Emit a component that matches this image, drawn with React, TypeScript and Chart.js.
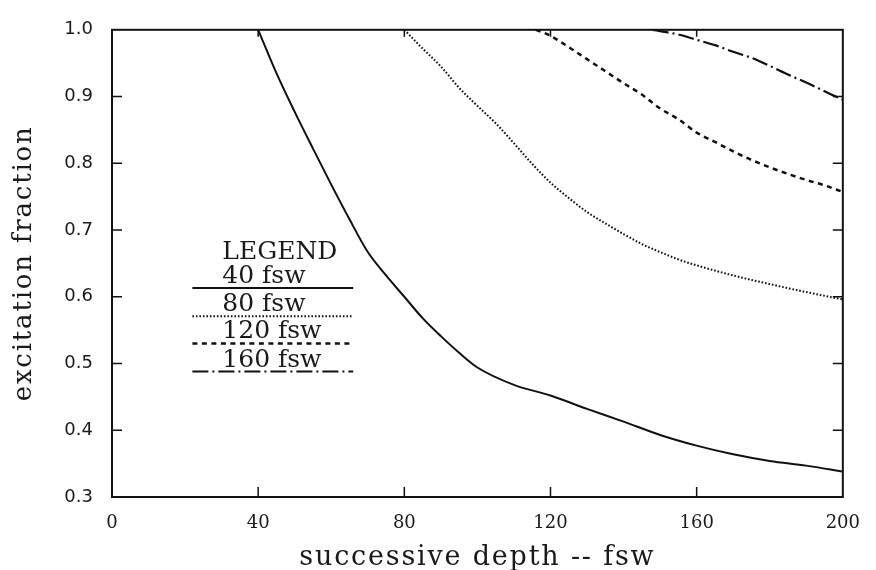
import React, { useEffect, useRef } from "react";
import { Chart, registerables } from "chart.js";
Chart.register(...registerables);

// ---- data ----
const depth40X = [40, 45, 50, 55, 60, 65, 70, 75, 80, 85, 90, 95, 100, 110, 120, 130, 140, 150, 160, 170, 180, 190, 200];
const depth40Y = [1.0, 0.935, 0.877, 0.822, 0.768, 0.716, 0.667, 0.632, 0.6, 0.568, 0.541, 0.516, 0.494, 0.468, 0.452, 0.432, 0.413, 0.393, 0.377, 0.364, 0.354, 0.347, 0.338];

const depth80X = [80, 85, 90, 95, 100, 105, 110, 115, 120, 125, 130, 135, 140, 145, 150, 155, 160, 170, 180, 190, 200];
const depth80Y = [1.0, 0.972, 0.945, 0.913, 0.886, 0.86, 0.83, 0.799, 0.771, 0.748, 0.727, 0.71, 0.694, 0.679, 0.667, 0.656, 0.647, 0.632, 0.619, 0.607, 0.596];

const depth120X = [116, 120, 125, 130, 135, 140, 145, 150, 155, 160, 165, 170, 175, 180, 185, 190, 195, 200];
const depth120Y = [1.0, 0.991, 0.974, 0.956, 0.938, 0.92, 0.903, 0.882, 0.866, 0.846, 0.832, 0.818, 0.805, 0.794, 0.784, 0.775, 0.767, 0.757];

const depth160X = [148, 150, 155, 160, 165, 170, 175, 180, 185, 190, 195, 200];
const depth160Y = [1.0, 0.998, 0.993, 0.985, 0.977, 0.967, 0.958, 0.946, 0.933, 0.921, 0.908, 0.895];

const xTicks = [0, 40, 80, 120, 160, 200];
const yTicks = [0.3, 0.4, 0.5, 0.6, 0.7, 0.8, 0.9, 1.0];

const seriesLabels = ["40 fsw", "80 fsw", "120 fsw", "160 fsw"];
const legendTitle = "LEGEND";
const xTitle = "successive depth -- fsw";
const yTitle = "excitation fraction";

// ---- styles ----
const INK = "#111";
const TEXT = "#1a1a1a";
const dashes: number[][] = [[], [1.6, 1.9], [5, 4.5], [16, 4, 2, 4]];
const widths = [2, 2, 2.5, 2.2];
const legendLineY = [0.613, 0.571, 0.53, 0.488];
const legendX0 = 22;
const legendX1 = 66;
const legendTextX = 30.2;
const legendTitleY = 0.6565;

function pts(xs: number[], ys: number[]) {
  return xs.map((x, i) => ({ x, y: ys[i] }));
}

const framePlugin = {
  id: "frameAndDecor",
  afterDatasetsDraw(chart: any) {
    const { ctx, chartArea: a, scales } = chart;
    const xs = scales.x;
    const ys = scales.y;
    ctx.save();
    // frame
    ctx.strokeStyle = INK;
    ctx.lineWidth = 2;
    ctx.setLineDash([]);
    ctx.strokeRect(a.left, a.top, a.right - a.left, a.bottom - a.top);
    // inward ticks
    ctx.lineWidth = 1.5;
    ctx.beginPath();
    xTicks.forEach((v) => {
      const px = xs.getPixelForValue(v);
      if (v > xs.min && v < xs.max) {
        ctx.moveTo(px, a.bottom);
        ctx.lineTo(px, a.bottom - 10);
        ctx.moveTo(px, a.top);
        ctx.lineTo(px, a.top + 7);
      }
    });
    yTicks.forEach((v) => {
      const py = ys.getPixelForValue(v);
      if (v > ys.min && v < ys.max) {
        ctx.moveTo(a.left, py);
        ctx.lineTo(a.left + 10, py);
        ctx.moveTo(a.right, py);
        ctx.lineTo(a.right - 10, py);
      }
    });
    ctx.stroke();

    // legend
    ctx.fillStyle = TEXT;
    ctx.font = "25px 'DejaVu Serif'";
    ctx.textAlign = "left";
    ctx.textBaseline = "alphabetic";
    const tx = xs.getPixelForValue(legendTextX);
    ctx.fillText(legendTitle, tx, ys.getPixelForValue(legendTitleY));
    seriesLabels.forEach((lab, i) => {
      const ly = ys.getPixelForValue(legendLineY[i]);
      ctx.fillText(lab, tx, ly - 5);
      ctx.setLineDash(dashes[i]);
      ctx.lineWidth = widths[i];
      ctx.beginPath();
      ctx.moveTo(xs.getPixelForValue(legendX0), ly);
      ctx.lineTo(xs.getPixelForValue(legendX1), ly);
      ctx.stroke();
    });
    ctx.setLineDash([]);

    // axis titles
    ctx.font = "27px 'DejaVu Serif'";
    (ctx as any).letterSpacing = "1.8px";
    ctx.textAlign = "center";
    ctx.fillText(xTitle, (a.left + a.right) / 2, 565);
    ctx.translate(31, (a.top + a.bottom) / 2);
    ctx.rotate(-Math.PI / 2);
    ctx.font = "26px 'DejaVu Serif'";
    (ctx as any).letterSpacing = "1.8px";
    ctx.fillText(yTitle, 0, 0);
    ctx.restore();
  },
};

export default function App() {
  const ref = useRef<HTMLCanvasElement>(null);
  useEffect(() => {
    if (!ref.current) return;
    const all = [
      pts(depth40X, depth40Y),
      pts(depth80X, depth80Y),
      pts(depth120X, depth120Y),
      pts(depth160X, depth160Y),
    ];
    const chart = new Chart(ref.current, {
      type: "line",
      data: {
        datasets: all.map((d, i) => ({
          label: seriesLabels[i],
          data: d,
          borderColor: INK,
          borderWidth: widths[i],
          borderDash: dashes[i],
          pointRadius: 0,
          fill: false,
          cubicInterpolationMode: "monotone" as const,
        })),
      },
      options: {
        responsive: false,
        animation: false,
        layout: { padding: { top: 16, right: 23, left: 0, bottom: 0 } },
        plugins: { legend: { display: false }, tooltip: { enabled: false } },
        scales: {
          x: {
            type: "linear",
            min: 0,
            max: 200,
            afterBuildTicks: (s: any) => {
              s.ticks = xTicks.map((v) => ({ value: v }));
            },
            afterFit: (s: any) => {
              s.height = 73;
            },
            grid: { display: false, drawTicks: false },
            border: { display: false },
            ticks: {
              color: TEXT,
              padding: 16,
              maxRotation: 0,
              font: { family: "'DejaVu Serif'", size: 18 },
            },
          },
          y: {
            type: "linear",
            min: 0.3,
            max: 1.0,
            afterBuildTicks: (s: any) => {
              s.ticks = yTicks.map((v) => ({ value: v }));
            },
            afterFit: (s: any) => {
              s.width = 112;
            },
            grid: { display: false, drawTicks: false },
            border: { display: false },
            ticks: {
              color: TEXT,
              padding: 19,
              callback: (v: any) => Number(v).toFixed(1),
              font: { family: "'DejaVu Sans'", size: 18 },
            },
          },
        },
      },
      plugins: [framePlugin],
    });
    return () => chart.destroy();
  }, []);
  return (
    <div style={{ position: "absolute", left: 0, top: 0, width: 876, height: 570, background: "#fff" }}>
      <canvas ref={ref} width={876} height={570} />
    </div>
  );
}
